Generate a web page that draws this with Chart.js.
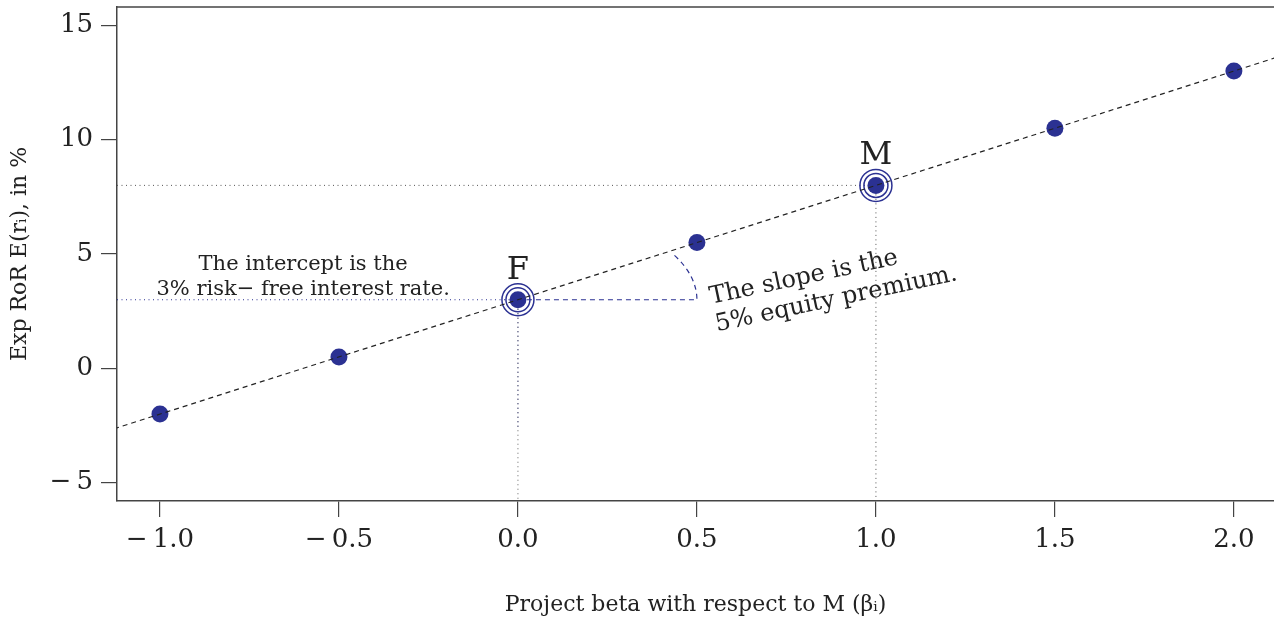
<!DOCTYPE html>
<html>
<head>
<meta charset="utf-8">
<script src="https://cdn.jsdelivr.net/npm/chart.js@4.4.1/dist/chart.umd.min.js"></script>
<style>
  html, body { margin: 0; padding: 0; background: #fff; }
  #wrap { width: 1274px; height: 619px; }
</style>
</head>
<body>
<div id="wrap"><canvas id="sml" width="1274" height="619"></canvas></div>
<script>
// project betas and expected returns (in %)
const betas = [-1, -0.5, 0, 0.5, 1, 1.5, 2];
const returns = [-2, 0.5, 3, 5.5, 8, 10.5, 13];

// the risk-free asset F and the market M
const keyLabels = ["F", "M"];
const keyBetas = [0, 1];
const keyReturns = [3, 8];

// security market line E(r) = 3 + 5 * beta, end points past the plot edges
const lineBetas = [-1.2, 2.2];
const lineReturns = [-3, 14];

const xTicks = [-1, -0.5, 0, 0.5, 1, 1.5, 2];
const yTicks = [-5, 0, 5, 10, 15];
const xRange = [-1.12, 2.112];
const yRange = [-5.8, 15.8];

const NAVY = "#2b3192";
const INK = "#222222";
const SERIF = "'DejaVu Serif', 'Liberation Serif', serif";

const pts = (xs, ys) => xs.map((x, i) => ({ x, y: ys[i] }));
const fmtTick = (v, digits) =>
  (v < 0 ? "\u2212\u2009" : "") + Math.abs(v).toFixed(digits);

// no extra room for the end tick labels, the plot box is fixed
const noPad = (s) => {
  s.paddingLeft = 0; s.paddingRight = 0;
  s.paddingTop = 0; s.paddingBottom = 0;
};

const annotations = {
  id: "annotations",
  beforeDatasetsDraw(chart) {
    const { ctx, scales: { x, y } } = chart;
    // slope angle arc, drawn in data units (0.5 wide, 4 tall)
    const cx = x.getPixelForValue(keyBetas[0]);
    const cy = y.getPixelForValue(keyReturns[0]);
    const rx = x.getPixelForValue(keyBetas[0] + 0.5) - cx;
    const ry = cy - y.getPixelForValue(keyReturns[0] + 4);
    ctx.save();
    ctx.strokeStyle = NAVY;
    ctx.lineWidth = 1.2;
    ctx.setLineDash([5, 4]);
    ctx.beginPath();
    ctx.ellipse(cx, cy, rx, ry, 0, -29 * Math.PI / 180, 0);
    ctx.stroke();
    ctx.restore();
  },
  afterDraw(chart) {
    const { ctx, chartArea, scales: { x, y } } = chart;
    ctx.save();
    // top of the box
    ctx.strokeStyle = "#444";
    ctx.lineWidth = 1.5;
    ctx.beginPath();
    ctx.moveTo(chartArea.left, chartArea.top);
    ctx.lineTo(chartArea.right, chartArea.top);
    ctx.stroke();

    ctx.fillStyle = INK;
    ctx.textAlign = "center";
    ctx.textBaseline = "alphabetic";
    ctx.font = "32px " + SERIF;
    keyLabels.forEach((lab, i) => {
      ctx.fillText(lab, x.getPixelForValue(keyBetas[i]), y.getPixelForValue(keyReturns[i]) - 21);
    });

    const fy = y.getPixelForValue(keyReturns[0]);
    ctx.font = "21px " + SERIF;
    ctx.fillText("The intercept is the", x.getPixelForValue(-0.6), fy - 30);
    ctx.fillText("3% risk\u2212 free interest rate.", x.getPixelForValue(-0.6), fy - 5);

    ctx.translate(x.getPixelForValue(0.54), fy + 4);
    ctx.rotate(-12 * Math.PI / 180);
    ctx.textAlign = "left";
    ctx.font = "24px " + SERIF;
    ctx.fillText("The slope is the", 0, 0);
    ctx.fillText("5% equity premium.", 0, 28);
    ctx.restore();
  }
};

new Chart(document.getElementById("sml"), {
  type: "scatter",
  data: {
    datasets: [
      {
        // security market line
        data: pts(lineBetas, lineReturns),
        showLine: true, pointRadius: 0,
        borderColor: INK, borderWidth: 1.2, borderDash: [5, 4],
        order: 1
      },
      {
        // slope leg from F
        data: pts([keyBetas[0], keyBetas[0] + 0.5], [keyReturns[0], keyReturns[0]]),
        showLine: true, pointRadius: 0,
        borderColor: NAVY, borderWidth: 1.2, borderDash: [5, 4],
        order: 2
      },
      {
        data: pts(betas, returns),
        pointRadius: 8.5, pointBackgroundColor: NAVY, pointBorderWidth: 0,
        order: 3
      },
      {
        data: pts(keyBetas, keyReturns),
        pointRadius: 12, pointBackgroundColor: "rgba(0,0,0,0)",
        pointBorderColor: NAVY, pointBorderWidth: 1.5,
        order: 4
      },
      {
        data: pts(keyBetas, keyReturns),
        pointRadius: 16, pointBackgroundColor: "rgba(0,0,0,0)",
        pointBorderColor: NAVY, pointBorderWidth: 1.5,
        order: 4
      },
      {
        // F guides
        data: pts([xRange[0], keyBetas[0]], [keyReturns[0], keyReturns[0]]),
        showLine: true, pointRadius: 0,
        borderColor: NAVY, borderWidth: 1, borderDash: [1, 3.5],
        order: 5
      },
      {
        data: pts([keyBetas[0], keyBetas[0]], [keyReturns[0], yRange[0]]),
        showLine: true, pointRadius: 0,
        borderColor: "#666", borderWidth: 1, borderDash: [1, 3.5],
        order: 5
      },
      {
        data: pts([keyBetas[0], keyBetas[0]], [keyReturns[0], lineReturns[0] + 0.4]),
        showLine: true, pointRadius: 0,
        borderColor: NAVY, borderWidth: 1, borderDash: [1, 3.5],
        order: 5
      },
      {
        // M guides
        data: pts([xRange[0], keyBetas[1]], [keyReturns[1], keyReturns[1]]),
        showLine: true, pointRadius: 0,
        borderColor: "#555", borderWidth: 1, borderDash: [1, 3.5],
        order: 5
      },
      {
        data: pts([keyBetas[1], keyBetas[1]], [keyReturns[1], yRange[0]]),
        showLine: true, pointRadius: 0,
        borderColor: "#555", borderWidth: 1, borderDash: [1, 3.5],
        order: 5
      }
    ]
  },
  options: {
    responsive: false,
    animation: false,
    layout: { autoPadding: false, padding: { top: 7, right: 0, left: 0, bottom: 0 } },
    plugins: { legend: { display: false }, tooltip: { enabled: false } },
    scales: {
      x: {
        type: "linear",
        min: xRange[0], max: xRange[1],
        afterBuildTicks: (s) => { s.ticks = xTicks.map((v) => ({ value: v })); },
        afterFit: (s) => { s.height = 118; noPad(s); },
        ticks: {
          callback: (v) => fmtTick(v, 1),
          font: { family: SERIF, size: 26 }, color: INK,
          padding: 8, maxRotation: 0, autoSkip: false
        },
        grid: { drawOnChartArea: false, tickLength: 16, color: "#444", lineWidth: 1.2 },
        border: { display: true, color: "#444", width: 1.5 },
        title: {
          display: true, text: "Project beta with respect to M (\u03b2\u1d62)",
          font: { family: SERIF, size: 22 }, color: INK, padding: { top: 0, bottom: 1 }
        }
      },
      y: {
        min: yRange[0], max: yRange[1],
        afterBuildTicks: (s) => { s.ticks = yTicks.map((v) => ({ value: v })); },
        afterFit: (s) => { s.width = 117; noPad(s); },
        ticks: {
          callback: (v) => fmtTick(v, 0),
          font: { family: SERIF, size: 26 }, color: INK, padding: 8
        },
        grid: { drawOnChartArea: false, tickLength: 16, color: "#444", lineWidth: 1.2 },
        border: { display: true, color: "#444", width: 1.5 },
        title: {
          display: true, text: "Exp RoR E(r\u1d62), in %",
          font: { family: SERIF, size: 22 }, color: INK, padding: { top: 7, bottom: 0 }
        }
      }
    }
  },
  plugins: [annotations]
});
</script>
</body>
</html>
